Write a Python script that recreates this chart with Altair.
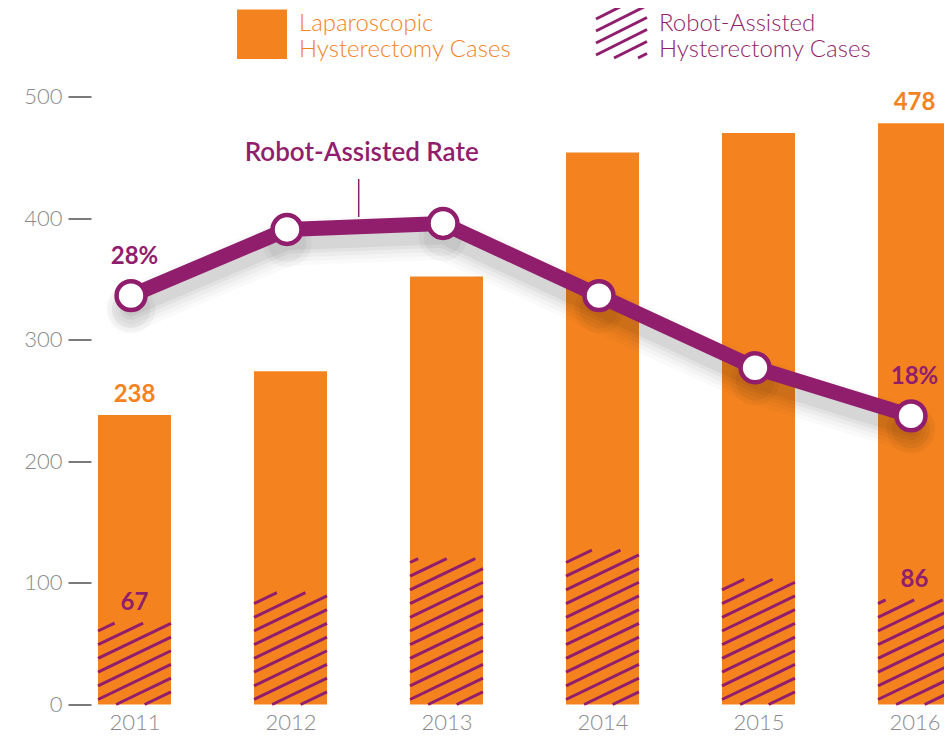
import math
import altair as alt
import pandas as pd

# ---------------- data ----------------
years = ["2011", "2012", "2013", "2014", "2015", "2016"]
laparoscopic = [238, 274, 352, 454, 470, 478]
robot = [67, 92, 120, 127, 103, 86]
rate = [28, 33.5, 34, 28, 22, 18]
y_ticks = [0, 100, 200, 300, 400, 500]

# ---------------- style / layout ----------------
ORANGE = "#F4831F"
PURPLE = "#911E6D"
GRAY = "#8a8a8a"
FONT = "Lato"

W, H = 853, 608
PX_PER_X = 156.0
X0 = -43.5 / PX_PER_X
X1 = X0 + W / PX_PER_X
Y_MAX = 500
PX_PER_Y = H / Y_MAX
RATE_DOMAIN = [-6.0, 44.56]
BAR_W = 73
LINE_SHIFT = -3.5 / PX_PER_X   # line markers sit slightly left of bar centres

idx = list(range(len(years)))
df = pd.DataFrame({"i": idx, "year": years, "lap": laparoscopic,
                   "robot": robot, "rate": rate})


def hatch(w, h, slope=0.48, gap=13.7, phase=5.0):
    segs = []
    kmin = math.ceil((-slope * w - phase) / gap)
    kmax = math.floor((h - phase) / gap)
    for k in range(kmin, kmax + 1):
        c = phase + k * gap
        u0 = max(0.0, -c / slope)
        u1 = min(w, (h - c) / slope)
        if u1 - u0 > 0.5:
            segs.append((u0, c + slope * u0, u1, c + slope * u1))
    return segs


# hatch segments for the bars, in data units
hrows = []
for i, r in zip(idx, robot):
    for u0, v0, u1, v1 in hatch(BAR_W, r * PX_PER_Y):
        hrows.append({"x": i + (u0 - BAR_W / 2) / PX_PER_X, "y": v0 / PX_PER_Y,
                      "x2": i + (u1 - BAR_W / 2) / PX_PER_X, "y2": v1 / PX_PER_Y})
hatch_df = pd.DataFrame(hrows)

# hatch for the legend swatch (pixel units)
LX, LB, LS = 505, -38.5, 51
lrows = []
for u0, v0, u1, v1 in hatch(LS, LS, slope=0.5, gap=12.0, phase=3.0):
    lrows.append({"x": LX + u0, "y": LB - v0, "x2": LX + u1, "y2": LB - v1})
leg_hatch_df = pd.DataFrame(lrows)

xscale = alt.Scale(domain=[X0, X1], nice=False, zero=False, padding=0)
yscale = alt.Scale(domain=[0, Y_MAX], nice=False, zero=False, padding=0)
rscale = alt.Scale(domain=RATE_DOMAIN, nice=False, zero=False, padding=0)

label_expr = "[" + ",".join("'%s'" % y for y in years) + "][datum.value]"

x_axis = alt.Axis(values=idx, labelExpr=label_expr, ticks=False, domain=False,
                  grid=False, labelFont=FONT, labelFontSize=22, labelFontWeight=300,
                  labelColor=GRAY, labelPadding=8, labelFlush=False,
                  labelOverlap=False, title=None)
y_axis = alt.Axis(values=y_ticks, tickSize=23, tickWidth=2, tickColor="#7a7a7a",
                  domain=False, grid=False, labelFont=FONT, labelFontSize=22,
                  labelFontWeight=300, labelColor=GRAY, labelPadding=6, title=None)

base = alt.Chart(df)
X = alt.X("i:Q", scale=xscale, axis=None)
XL = alt.X("xl:Q", scale=xscale, axis=None)

bars = base.mark_bar(color=ORANGE, size=BAR_W).encode(
    x=alt.X("i:Q", scale=xscale, axis=x_axis),
    y=alt.Y("lap:Q", scale=yscale, axis=y_axis),
)

hatch_layer = alt.Chart(hatch_df).mark_rule(color=PURPLE, strokeWidth=3).encode(
    x=alt.X("x:Q", scale=xscale, axis=None), x2="x2:Q",
    y=alt.Y("y:Q", scale=yscale, axis=None), y2="y2:Q",
)

ends = "datum.i == 0 || datum.i == %d" % (len(years) - 1)

lap_labels = base.transform_filter(ends).mark_text(
    font=FONT, fontSize=24, fontWeight="bold", color=ORANGE, dy=-20, baseline="middle"
).encode(x=X, y=alt.Y("lap:Q", scale=yscale, axis=None), text="lap:Q")

robot_labels = base.transform_filter(ends).mark_text(
    font=FONT, fontSize=24, fontWeight="bold", color=PURPLE, dy=-20, baseline="middle"
).encode(x=X, y=alt.Y("robot:Q", scale=yscale, axis=None), text="robot:Q")

line_base = base.transform_calculate(xl="datum.i + %f" % LINE_SHIFT)
shadow_base = line_base.transform_calculate(rs="datum.rate - 1.1")
shadows = []
for sw, op in [(46, 0.02), (38, 0.025), (30, 0.03), (22, 0.04), (15, 0.05)]:
    shadows.append(shadow_base.mark_line(color="#000000", opacity=op, strokeWidth=sw,
                                         strokeCap="round", strokeJoin="round").encode(
        x=XL, y=alt.Y("rs:Q", scale=rscale, axis=None)))
for sz, op in [(2400, 0.03), (1500, 0.04)]:
    shadows.append(shadow_base.mark_circle(color="#000000", opacity=op, size=sz).encode(
        x=XL, y=alt.Y("rs:Q", scale=rscale, axis=None)))

line = line_base.mark_line(color=PURPLE, strokeWidth=15, strokeJoin="round").encode(
    x=XL, y=alt.Y("rate:Q", scale=rscale, axis=None))

points = line_base.mark_point(shape="circle", filled=True, fill="white", stroke=PURPLE,
                              strokeWidth=4.5, size=834, opacity=1).encode(
    x=XL, y=alt.Y("rate:Q", scale=rscale, axis=None))

rate_labels = line_base.transform_filter(ends).transform_calculate(
    lbl="format(datum.rate, 'd') + '%'"
).mark_text(font=FONT, fontSize=24, fontWeight="bold", color=PURPLE, dy=-39,
            baseline="middle").encode(
    x=X, y=alt.Y("rate:Q", scale=rscale, axis=None), text="lbl:N")

# annotation
ann = alt.Chart(pd.DataFrame({"t": ["Robot-Assisted Rate"]}))
ann_text = ann.mark_text(font=FONT, fontSize=26, fontWeight=600, color=PURPLE,
                         baseline="middle", align="center").encode(
    x=alt.value(270.7), y=alt.value(56.5), text="t:N")
ann_rule = ann.mark_rule(color=PURPLE, strokeWidth=1.5).encode(
    x=alt.value(267.7), y=alt.value(82.5), y2=alt.value(120.5))

# legend
leg = alt.Chart(pd.DataFrame({"a1": ["Laparoscopic"], "a2": ["Hysterectomy Cases"],
                              "b1": ["Robot-Assisted"], "b2": ["Hysterectomy Cases"]}))
leg_rect = leg.mark_rect(color=ORANGE).encode(
    x=alt.value(146), x2=alt.value(196), y=alt.value(-87), y2=alt.value(-37.5))


def leg_line(field, color, x, y):
    return leg.mark_text(font=FONT, fontSize=24, fontWeight=300, color=color,
                         align="left", baseline="alphabetic").encode(
        x=alt.value(x), y=alt.value(y), text=field + ":N")


leg_texts = [
    leg_line("a1", ORANGE, 208, -65.8), leg_line("a2", ORANGE, 208, -39.8),
    leg_line("b1", PURPLE, 568, -65.8), leg_line("b2", PURPLE, 568, -39.8),
]
leg_hatch = alt.Chart(leg_hatch_df).mark_rule(color=PURPLE, strokeWidth=3).encode(
    x=alt.X("x:Q", scale=None, axis=None), x2="x2:Q",
    y=alt.Y("y:Q", scale=None, axis=None), y2="y2:Q")

chart = alt.layer(
    bars, hatch_layer, lap_labels, robot_labels, *shadows, line, points, rate_labels,
    ann_text, ann_rule, leg_rect, *leg_texts, leg_hatch,
).resolve_scale(x="independent", y="independent").properties(
    width=W, height=H,
    background="white",
    autosize=alt.AutoSizeParams(type="none"),
    padding={"left": 83, "top": 88.5, "right": 0, "bottom": 30},
).configure_view(stroke=None)

chart.save("out.html", embed_options={"renderer": "svg", "actions": False})
